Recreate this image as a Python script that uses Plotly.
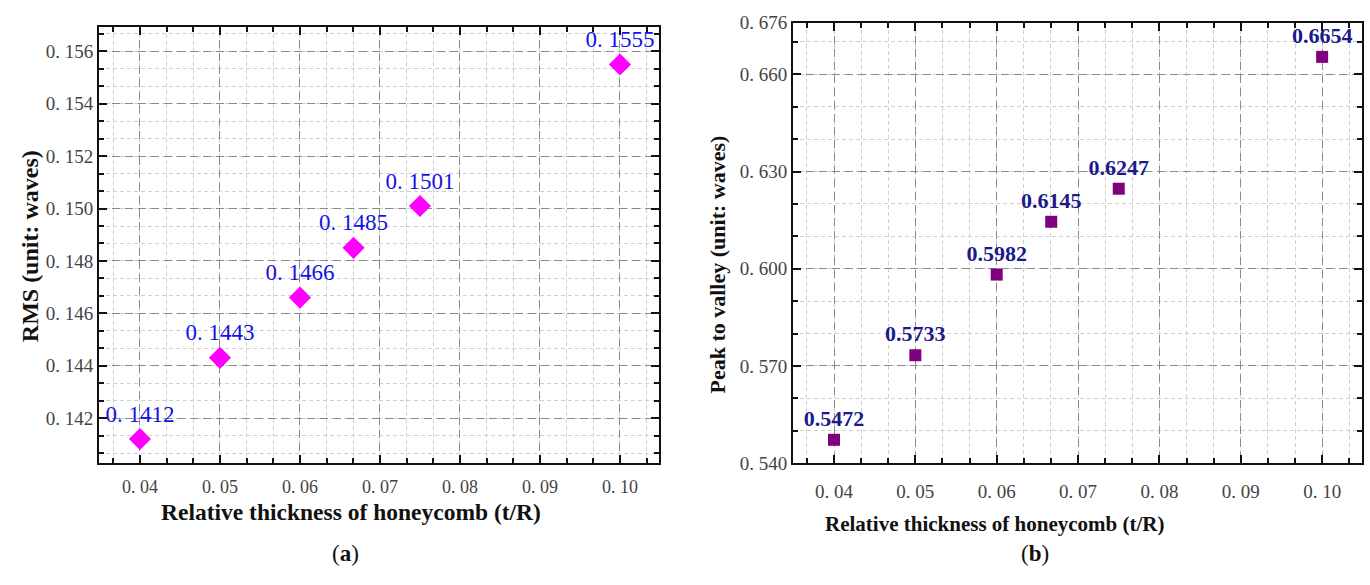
import plotly.graph_objects as go

# Relative thickness of honeycomb (t/R)
thickness = [0.04, 0.05, 0.06, 0.0667, 0.075, 0.10]
# (a) RMS surface error, waves
rms = [0.1412, 0.1443, 0.1466, 0.1485, 0.1501, 0.1555]
# (b) Peak-to-valley surface error, waves
pv = [0.5472, 0.5733, 0.5982, 0.6145, 0.6247, 0.6654]

x_ticks = [0.04, 0.05, 0.06, 0.07, 0.08, 0.09, 0.10]
x_ticktext = ["0. 04", "0. 05", "0. 06", "0. 07", "0. 08", "0. 09", "0. 10"]
rms_ticks = [0.142, 0.144, 0.146, 0.148, 0.150, 0.152, 0.154, 0.156]
rms_ticktext = ["0. 142", "0. 144", "0. 146", "0. 148", "0. 150", "0. 152", "0. 154", "0. 156"]
pv_ticks = [0.540, 0.570, 0.600, 0.630, 0.660, 0.676]
pv_ticktext = ["0. 540", "0. 570", "0. 600", "0. 630", "0. 660", "0. 676"]

W, H = 1370, 585
SERIF = "Liberation Serif"

rms_labels = ["0. " + f"{v:.4f}"[2:] for v in rms]
pv_labels = [f"{v:.4f}" for v in pv]

fig = go.Figure()

fig.add_trace(go.Scatter(
    x=thickness, y=rms, mode="markers+text",
    marker=dict(symbol="diamond", size=17, color="#ff00ff", line=dict(width=0)),
    text=rms_labels, textposition="top center",
    textfont=dict(family=SERIF, size=23, color="#1212e6"),
    xaxis="x", yaxis="y", showlegend=False, cliponaxis=False,
))

fig.add_trace(go.Scatter(
    x=thickness, y=pv, mode="markers+text",
    marker=dict(symbol="square", size=12, color="#800080", line=dict(width=0)),
    text=pv_labels, textposition="top center",
    textfont=dict(family=SERIF, size=22, color="#1a1a8c", weight="bold"),
    xaxis="x2", yaxis="y2", showlegend=False, cliponaxis=False,
))


def frame_axis(**kw):
    base = dict(
        showline=True, linecolor="#111", linewidth=2, mirror="allticks",
        ticks="inside", ticklen=8, tickwidth=2, tickcolor="#111",
        showgrid=True, gridcolor="#8a8a8a", gridwidth=1.3, griddash="8px,5px",
        zeroline=False,
        tickfont=dict(family=SERIF, size=19, color="#444"),
        tickmode="array",
    )
    base.update(kw)
    return base


def minor_axis(tick0, dtick):
    return dict(ticks="inside", ticklen=5, tickwidth=2, tickcolor="#111",
                showgrid=True, gridcolor="#cfcfcf", gridwidth=1, griddash="4px,3px",
                tickmode="linear", tick0=tick0, dtick=dtick)


x_tickfont = dict(family=SERIF, size=18, color="#444")

fig.update_layout(
    width=W, height=H,
    margin=dict(l=0, r=0, t=0, b=0),
    paper_bgcolor="white", plot_bgcolor="white",
    xaxis=frame_axis(domain=[99 / W, 659 / W], range=[0.03488, 0.10488],
                     tickvals=x_ticks, ticktext=x_ticktext, anchor="y",
                     tickfont=x_tickfont, ticklabelstandoff=6,
                     minor=minor_axis(0.04, 0.01 / 3)),
    yaxis=frame_axis(domain=[1 - 470 / H, 1 - 18 / H], range=[0.14028, 0.15692],
                     tickvals=rms_ticks, ticktext=rms_ticktext, anchor="x",
                     minor=minor_axis(0.142, 0.002 / 3)),
    xaxis2=frame_axis(domain=[793 / W, 1362 / W], range=[0.03496, 0.1049],
                      tickvals=x_ticks, ticktext=x_ticktext, anchor="y2",
                      ticklabelstandoff=10, minor=minor_axis(0.04, 0.01 / 3)),
    yaxis2=frame_axis(domain=[1 - 470 / H, 1 - 13 / H], range=[0.540, 0.676],
                      tickvals=pv_ticks, ticktext=pv_ticktext, anchor="x2",
                      minor=minor_axis(0.54, 0.01)),
)

big_title = dict(family=SERIF, size=24, color="#111", weight="bold")
left_x_title = dict(family=SERIF, size=23.5, color="#111", weight="bold")
mid_title = dict(family=SERIF, size=22, color="#111", weight="bold")
small_title = dict(family=SERIF, size=21, color="#111", weight="bold")
caption_font = dict(family=SERIF, size=23, color="#111")
annotations = [
    dict(text="RMS (unit: waves)", x=30 / W, y=1 - 245 / H, textangle=-90, font=big_title),
    dict(text="Relative thickness of honeycomb (t/R)", x=351 / W, y=1 - 521 / H, font=left_x_title),
    dict(text="Peak to valley (unit: waves)", x=718 / W, y=1 - 264 / H, textangle=-90, font=mid_title),
    dict(text="Relative thickness of honeycomb (t/R)", x=995 / W, y=1 - 533 / H, font=small_title),
    dict(text="(<b>a</b>)", x=345 / W, y=1 - 564 / H, font=caption_font),
    dict(text="(<b>b</b>)", x=1035 / W, y=1 - 564 / H, font=caption_font),
]
for a in annotations:
    a.update(xref="paper", yref="paper", showarrow=False, xanchor="center", yanchor="middle")
fig.update_layout(annotations=annotations)

fig.write_html("out.html")
